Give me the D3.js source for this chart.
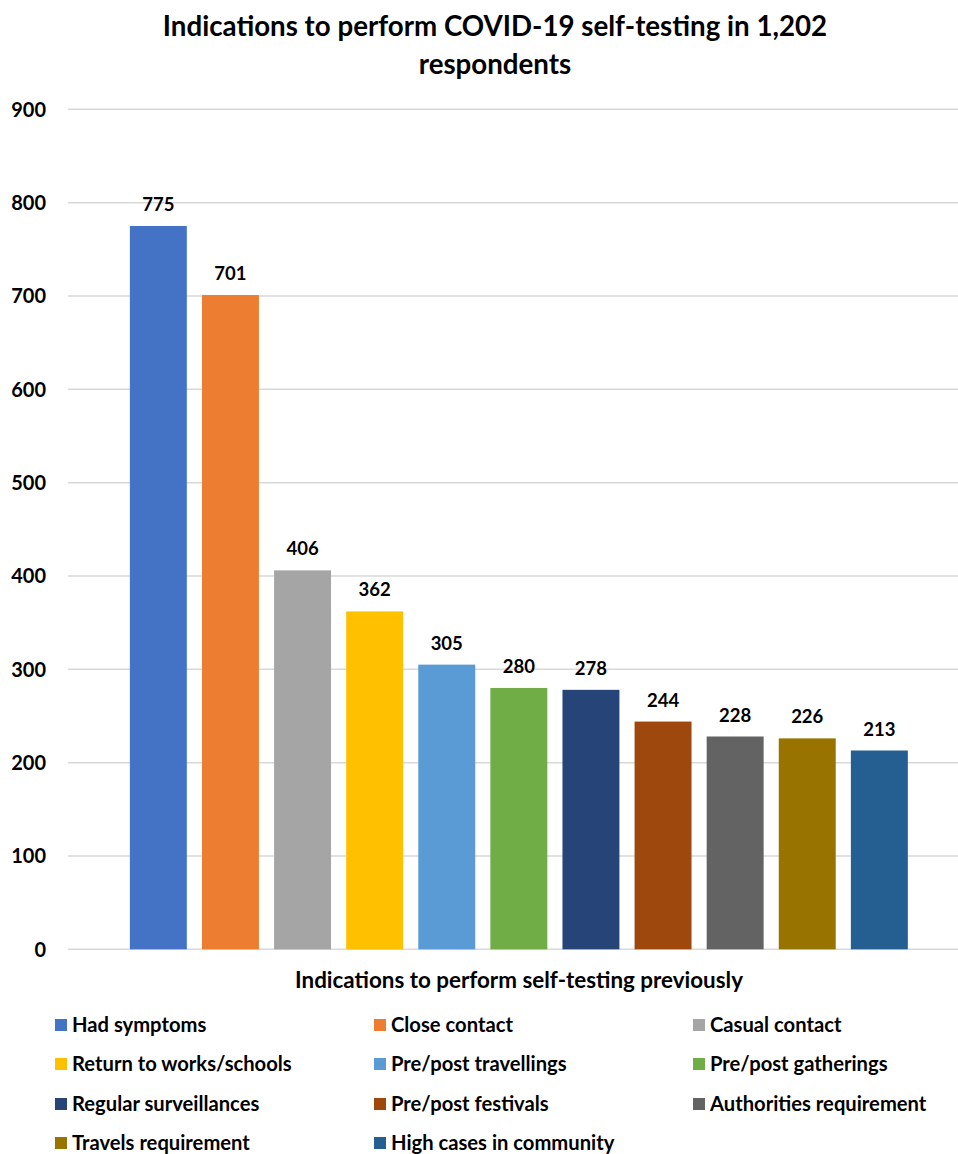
<!DOCTYPE html>
<html><head><meta charset="utf-8">
<script src="https://cdn.jsdelivr.net/npm/d3@7"></script>
<style>body{margin:0;background:#fff}svg{display:block}text{font-family:Lato,"Open Sans",sans-serif;font-weight:bold;fill:#000}</style>
</head><body>
<svg id="c" width="958" height="1154"></svg>
<script>
const categories = ["Had symptoms","Close contact","Casual contact","Return to works/schools","Pre/post travellings","Pre/post gatherings","Regular surveillances","Pre/post festivals","Authorities requirement","Travels requirement","High cases in community"];
const values = [775,701,406,362,305,280,278,244,228,226,213];
const colors = ["#4472C4","#ED7D31","#A5A5A5","#FFC000","#5B9BD5","#70AD47","#264478","#9E480E","#636363","#997300","#255E91"];
const yTicks = [0,100,200,300,400,500,600,700,800,900];

const svg = d3.select("#c");
const y = d3.scaleLinear().domain([0,900]).range([949.3,109.3]);
const x = d3.scaleBand().domain(categories).range([122.3,915.4]).paddingInner(0.21).paddingOuter(0.105);

// gridlines
svg.append("g").selectAll("line").data(yTicks).join("line")
  .attr("x1",68).attr("x2",958)
  .attr("y1",d=>y(d)).attr("y2",d=>y(d))
  .attr("stroke","#d9d9d9").attr("stroke-width",1.5);

// y axis labels
const yAxis = d3.axisLeft(y).tickValues(yTicks).tickSize(0).tickPadding(0);
const ga = svg.append("g").attr("transform","translate(46,0)").call(yAxis);
ga.select(".domain").remove();
ga.selectAll("text").style("font-size","20px").style("font-family","Lato, sans-serif").style("font-weight","bold").attr("fill","#000").attr("dy","0.35em");

// bars
svg.append("g").selectAll("rect").data(values).join("rect")
  .attr("x",(d,i)=>x(categories[i]))
  .attr("width",x.bandwidth())
  .attr("y",d=>y(d))
  .attr("height",d=>y(0)-y(d))
  .attr("fill",(d,i)=>colors[i]);

// value labels
svg.append("g").selectAll("text").data(values).join("text")
  .attr("x",(d,i)=>x(categories[i])+x.bandwidth()/2)
  .attr("y",d=>y(d)-15)
  .attr("text-anchor","middle")
  .style("font-size","18.5px")
  .text(d=>d);

// title
svg.append("text").attr("x",495).attr("y",36).attr("text-anchor","middle").style("font-size","27.7px").text("Indications to perform COVID-19 self-testing in 1,202");
svg.append("text").attr("x",495).attr("y",74).attr("text-anchor","middle").style("font-size","27.7px").text("respondents");

// x axis title
svg.append("text").attr("x",519).attr("y",988).attr("text-anchor","middle").style("font-size","22.4px").text("Indications to perform self-testing previously");

// legend
const colX = [55,374,693];
const rowY = [1025,1064,1104,1143];
const lg = svg.append("g").selectAll("g").data(categories).join("g")
  .attr("transform",(d,i)=>`translate(${colX[i%3]},${rowY[Math.floor(i/3)]})`);
lg.append("rect").attr("x",0).attr("y",-6).attr("width",12).attr("height",12).attr("fill",(d,i)=>colors[i]);
lg.append("text").attr("x",17).attr("y",0).attr("dy","0.35em").style("font-size","20.2px").text(d=>d);
</script>
</body></html>
